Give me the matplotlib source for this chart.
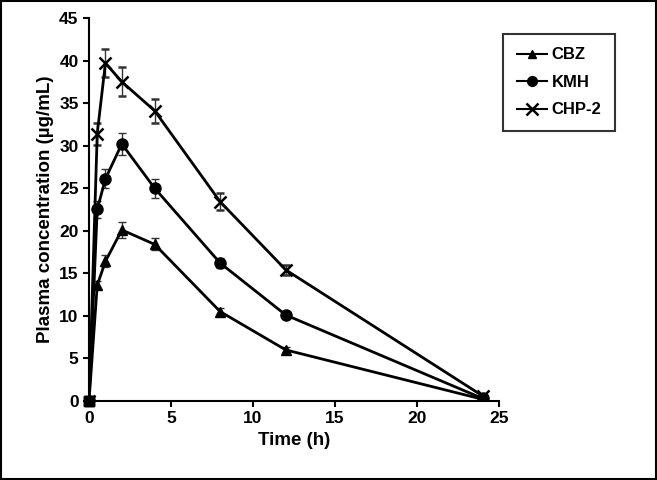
import matplotlib.pyplot as plt
from matplotlib.lines import Line2D

time_h = [0, 0.5, 1, 2, 4, 8, 12, 24]

cbz = [0, 13.6, 16.4, 20.1, 18.4, 10.5, 6.0, 0.2]
cbz_err = [0, 0.5, 0.7, 0.9, 0.7, 0.4, 0.3, 0.1]

kmh = [0, 22.5, 26.1, 30.2, 25.0, 16.2, 10.1, 0.3]
kmh_err = [0, 1.0, 1.1, 1.3, 1.1, 0.6, 0.3, 0.1]

chp2 = [0, 31.4, 39.7, 37.5, 34.1, 23.4, 15.4, 0.6]
chp2_err = [0, 1.3, 1.6, 1.7, 1.4, 1.0, 0.6, 0.1]

names = ['CBZ', 'KMH', 'CHP-2']

plt.rcParams['font.family'] = ['Liberation Sans', 'DejaVu Sans']
plt.rcParams['font.weight'] = 'bold'

fig = plt.figure(figsize=(6.57, 4.80), dpi=100)
ax = fig.add_axes([0.1355, 0.1646, 0.624, 0.798])

styles = [dict(marker='^', ms=7), dict(marker='o', ms=8), dict(marker='x', ms=9, mew=1.8)]
handles = []
for y, err, name, st in zip([cbz, kmh, chp2], [cbz_err, kmh_err, chp2_err], names, styles):
    ax.errorbar(time_h, y, yerr=err, color='black', lw=2, capsize=3,
                ecolor='#333333', elinewidth=1, **st)
    ax.plot(time_h[:1], y[:1], marker='s', ms=7, color='black', ls='none', clip_on=False, zorder=5)
    handles.append(Line2D([], [], color='black', lw=1.5, label=name,
                          **{k: (v - 1 if k == 'ms' else v) for k, v in st.items()}))

ax.set_xlim(0, 25)
ax.set_ylim(0, 45)
ax.set_xticks([0, 5, 10, 15, 20, 25])
ax.set_yticks(range(0, 46, 5))
ax.spines['top'].set_visible(False)
ax.spines['right'].set_visible(False)
ax.spines['left'].set_linewidth(1.5)
ax.spines['bottom'].set_linewidth(1.5)
ax.tick_params(direction='out', length=4, width=1.5, labelsize=12.5)
for lab in ax.get_xticklabels() + ax.get_yticklabels():
    lab.set_fontweight('bold')

ax.set_xlabel('Time (h)', fontsize=13.5, fontweight='bold')
ax.set_ylabel('Plasma concentration (µg/mL)', fontsize=13.5, fontweight='bold')

leg = fig.legend(handles=handles, loc='upper left', bbox_to_anchor=(0.766, 0.929),
                 borderaxespad=0, frameon=True, fancybox=False, edgecolor='black',
                 fontsize=12, labelspacing=0.75, handlelength=1.8, handletextpad=0.3,
                 borderpad=0.8)
leg.get_frame().set_linewidth(1.5)
for t in leg.get_texts():
    t.set_fontweight('bold')

fig.patches.append(plt.Rectangle((0.002, 0.002), 0.996, 0.996, transform=fig.transFigure,
                                 fill=False, edgecolor='black', lw=1.5))

fig.savefig('out.png', dpi=100)
